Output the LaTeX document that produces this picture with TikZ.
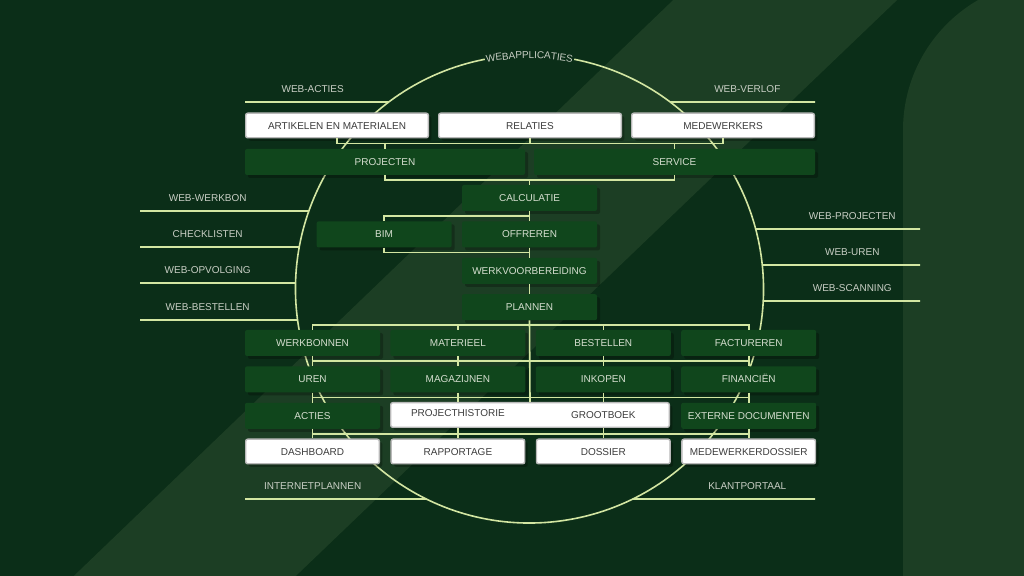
\documentclass[tikz,border=0pt]{standalone}
\usepackage{fontspec}
\setmainfont{Liberation Sans}
\usepackage{xcolor}
\usetikzlibrary{positioning, calc, shadows, decorations.text}

\definecolor{bgdark}{HTML}{0B2E18}
\definecolor{bgband}{HTML}{1C3E24}
\definecolor{boxgreen}{HTML}{10461C}
\definecolor{wirelime}{HTML}{D3E6A2}
\definecolor{boxtext}{HTML}{D5DECF}
\definecolor{darktext}{HTML}{3C3C3C}
\definecolor{boxedge}{HTML}{B9B9B9}
\definecolor{lbltext}{HTML}{C8CEC4}

\tikzset{
  wire/.style={draw=wirelime, line width=1.6pt},
  darkbox/.style={fill=boxgreen, rounded corners=2pt, minimum width=135pt, minimum height=26pt,
    inner sep=0pt, text height=7.2pt, text depth=0pt, text=boxtext,
    drop shadow={shadow xshift=3pt, shadow yshift=-3pt, opacity=.25, fill=black}},
  lightbox/.style={fill=white, draw=boxedge, line width=1.4pt, rounded corners=2pt, minimum width=133.6pt,
    minimum height=24.6pt, inner sep=0pt, outer sep=0.7pt, text height=7.2pt, text depth=0pt, text=darktext,
    drop shadow={shadow xshift=3pt, shadow yshift=-3pt, opacity=.25, fill=black}},
  outlabel/.style={minimum width=135pt, minimum height=25pt, inner sep=0pt, text=lbltext},
}

\begin{document}
\begin{tikzpicture}[x=1pt, y=1pt]
  \useasboundingbox (0,0) rectangle (1024,575);
  \clip (0,0) rectangle (1024,575);

  % background
  \fill[bgdark] (-20,-20) rectangle (1044,595);
  \fill[bgband] (54,-20) -- (276,-20) -- (918,595) -- (694,595) -- cycle;
  \fill[bgband, rounded corners=150pt] (903,-300) rectangle (1260,595);

  % ring of web applications
  \coordinate (ring) at (529.5,286);
  \draw[wire] ($(ring)+(101:234pt)$) arc[start angle=101, end angle=439, radius=234pt];
  \path[decorate, decoration={text along path, text align=center, raise=-3.5pt,
      text={|\color{lbltext}|WEBAPPLICATIES}}]
    ($(ring)+(106:234pt)$) arc[start angle=106, end angle=74, radius=234pt];

  % top rows
  \node[lightbox, minimum width=182.6pt] (art) at (337,449.5) {ARTIKELEN EN MATERIALEN};
  \node[lightbox, minimum width=182.6pt] (rel) at (530,449.5) {RELATIES};
  \node[lightbox, minimum width=182.6pt] (med) at (723,449.5) {MEDEWERKERS};
  \node[darkbox, minimum width=280pt] (proj) at (385,413) {PROJECTEN};
  \node[darkbox, minimum width=281pt] (serv) at (674.5,413) {SERVICE};

  % middle column
  \node[darkbox] (calc) at (529.5,377) {CALCULATIE};
  \node[darkbox, below=10pt of calc] (off) {OFFREREN};
  \node[darkbox, left=10pt of off] (bim) {BIM};
  \node[darkbox, below=10pt of off] (wvb) {WERKVOORBEREIDING};
  \node[darkbox, below=10pt of wvb] (plan) {PLANNEN};

  % grid
  \node[darkbox] (wb) at (312.5,232) {WERKBONNEN};
  \node[darkbox, right=10pt of wb] (mat) {MATERIEEL};
  \node[darkbox, right=10pt of mat] (best) {BESTELLEN};
  \node[darkbox, right=10pt of best] (fact) {FACTUREREN};
  \node[darkbox, below=10pt of wb] (uren) {UREN};
  \node[darkbox, below=10pt of mat] (mag) {MAGAZIJNEN};
  \node[darkbox, below=10pt of best] (ink) {INKOPEN};
  \node[darkbox, below=10pt of fact] (fin) {FINANCIËN};
  \node[darkbox, below=10pt of uren] (act) {ACTIES};
  \node[lightbox, minimum width=278.6pt] (hist) at (530,160) {};
  \node[text=darktext] (histl) at (mag |- hist) [yshift=1.5pt] {PROJECTHISTORIE};
  \node[text=darktext] (histr) at (ink |- hist) {GROOTBOEK};
  \node[darkbox, below=10pt of fin] (ext) {EXTERNE DOCUMENTEN};
  \node[lightbox] (dash) at (312.5,123.5) {DASHBOARD};
  \node[lightbox] (rapp) at (mat |- dash) {RAPPORTAGE};
  \node[lightbox] (dos) at (best |- dash) {DOSSIER};
  \node[lightbox] (mwd) at (fact |- dash) {MEDEWERKERDOSSIER};

  % links top
  \draw[wire] (art.south) -- ++(0,-5) -| (med.south);
  \draw[wire] (rel.south) -- ++(0,-5);
  \draw[wire] (proj.north) -- ++(0,5);
  \draw[wire] (serv.north) -- ++(0,5);
  \draw[wire] (proj.south) -- ++(0,-5) -| (serv.south);
  \draw[wire] (calc.north) -- ++(0,5);

  % links middle
  \draw[wire] (calc.south) -- (off.north);
  \draw[wire] (bim.north) |- ($(calc.south)!.5!(off.north)$);
  \draw[wire] (bim.south) |- ($(off.south)!.5!(wvb.north)$);
  \draw[wire] (off.south) -- (wvb.north);
  \draw[wire] (wvb.south) -- (plan.north);
  \draw[wire] (plan.south) -- (hist.north);

  % links grid
  \draw[wire] (wb.north) -- ++(0,5) -| (fact.north);
  \draw[wire] (mat.north) -- ++(0,5);
  \draw[wire] (best.north) -- ++(0,5);
  \foreach \u/\l in {wb/uren, mat/mag, best/ink, fact/fin, uren/act, fin/ext, act/dash, ext/mwd}
    \draw[wire] (\u.south) -- (\l.north);
  \foreach \u in {mag, ink}
    \draw[wire] (\u.south) -- (\u.south |- hist.north);
  \foreach \l in {rapp, dos}
    \draw[wire] (\l.north |- hist.south) -- (\l.north);
  \foreach \a/\b/\c/\d in {wb/uren/fact/fin, uren/act/fin/ext, act/dash/ext/mwd}
    \draw[wire] ($(\a.south)!.5!(\b.north)$) -- ($(\c.south)!.5!(\d.north)$);

  % web labels, left
  \foreach \nm/\txt/\xo/\ly in {wact/WEB-ACTIES/245/473, wwb/WEB-WERKBON/140/364,
      chk/CHECKLISTEN/140/328, wopv/WEB-OPVOLGING/140/292,
      wbest/WEB-BESTELLEN/140/255, inet/INTERNETPLANNEN/245/76} {
    \node[outlabel, anchor=south west] (\nm) at (\xo,\ly) {\txt};
    \pgfmathsetmacro{\ang}{180-asin((\ly-286)/234)}
    \draw[wire] (\nm.south west) -- ($(ring)+(\ang:234pt)$);
  }
  % web labels, right
  \foreach \nm/\txt/\xo/\ly in {wverl/WEB-VERLOF/815/473, wproj/WEB-PROJECTEN/920/346,
      wuren/WEB-UREN/920/310, wscan/WEB-SCANNING/920/274, klant/KLANTPORTAAL/815/76} {
    \node[outlabel, anchor=south east] (\nm) at (\xo,\ly) {\txt};
    \pgfmathsetmacro{\ang}{asin((\ly-286)/234)}
    \draw[wire] (\nm.south east) -- ($(ring)+(\ang:234pt)$);
  }
\end{tikzpicture}
\end{document}
